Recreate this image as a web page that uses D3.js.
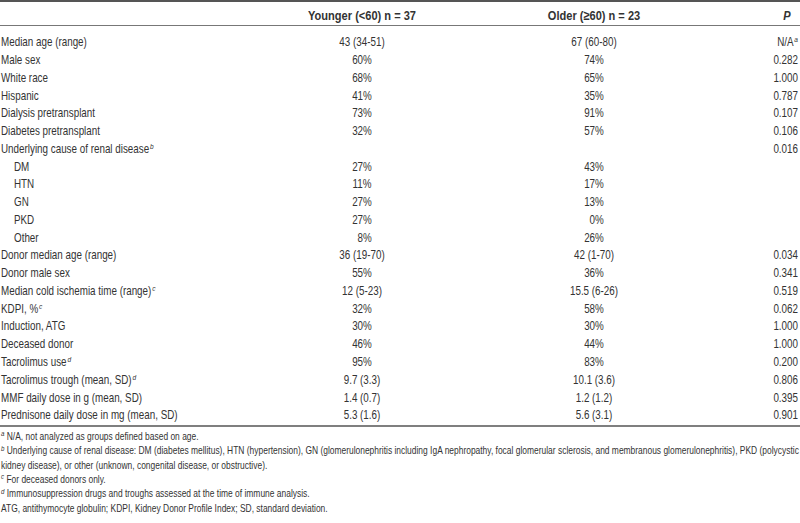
<!DOCTYPE html>
<html>
<head>
<meta charset="utf-8">
<script src="https://cdn.jsdelivr.net/npm/d3@7/dist/d3.min.js"></script>
<style>
  html, body { margin: 0; padding: 0; background: #fff; }
  svg { display: block; }
  text { font-family: "Liberation Sans", Arial, Helvetica, sans-serif; fill: #333; }
</style>
</head>
<body>
<svg id="chart" width="800" height="523"></svg>
<script>
// ---- Data ----
const headers = ["", "Younger (<60) n = 37", "Older (\u226560) n = 23", "P"];
const rowLabels = [
  "Median age (range)", "Male sex", "White race", "Hispanic", "Dialysis pretransplant",
  "Diabetes pretransplant", "Underlying cause of renal disease", "DM", "HTN", "GN", "PKD", "Other",
  "Donor median age (range)", "Donor male sex", "Median cold ischemia time (range)", "KDPI, %",
  "Induction, ATG", "Deceased donor", "Tacrolimus use", "Tacrolimus trough (mean, SD)",
  "MMF daily dose in g (mean, SD)", "Prednisone daily dose in mg (mean, SD)"
];
const rowLevel = [0,0,0,0,0,0,0,1,1,1,1,1,0,0,0,0,0,0,0,0,0,0];
const rowNotes = ["","","","","","","b","","","","","","","","c","c","","","d","d","",""];
const younger = ["43 (34-51)","60%","68%","41%","73%","32%","","27%","11%","27%","27%","\u20078%",
  "36 (19-70)","55%","12 (5-23)","32%","30%","46%","95%","9.7 (3.3)","1.4 (0.7)","5.3 (1.6)"];
const older = ["67 (60-80)","74%","65%","35%","91%","57%","","43%","17%","13%","\u20070%","26%",
  "42 (1-70)","36%","15.5 (6-26)","58%","30%","44%","83%","10.1 (3.6)","1.2 (1.2)","5.6 (3.1)"];
const pValues = ["N/A","0.282","1.000","0.787","0.107","0.106","0.016","","","","","",
  "0.034","0.341","0.519","0.062","1.000","1.000","0.200","0.806","0.395","0.901"];
const pNotes = ["a","","","","","","","","","","","","","","","","","","","","",""];
const footnoteSups = ["a", "b", "", "c", "d", ""];
const footnoteLines = [
  "N/A, not analyzed as groups defined based on age.",
  "Underlying cause of renal disease: DM (diabetes mellitus), HTN (hypertension), GN (glomerulonephritis including IgA nephropathy, focal glomerular sclerosis, and membranous glomerulonephritis), PKD (polycystic",
  "kidney disease), or other (unknown, congenital disease, or obstructive).",
  "For deceased donors only.",
  "Immunosuppression drugs and troughs assessed at the time of immune analysis.",
  "ATG, antithymocyte globulin; KDPI, Kidney Donor Profile Index; SD, standard deviation."
];

// ---- Layout ----
const svg = d3.select("#chart");
const W = 800;
const SX = 0.82; // condensed look
const idx = d3.range(rowLabels.length);
const y = d3.scalePoint().domain(idx).range([42, 415]);
const colX = { label: 1, younger: 362, older: 594, p: 798 };

function place(sel, xf, yf) {
  sel.attr("transform", d => `translate(${typeof xf === "function" ? xf(d) : xf},${typeof yf === "function" ? yf(d) : yf}) scale(${SX},1)`);
}
function addSup(sel, note, size, dy) {
  sel.filter(d => note(d)).append("tspan")
    .attr("dy", -dy).attr("font-size", size).attr("font-style", "italic")
    .attr("dx", 1)
    .text(d => note(d));
}

// rules
svg.append("line").attr("x1", 0).attr("x2", W).attr("y1", 1).attr("y2", 1)
  .attr("stroke", "#555").attr("stroke-width", 2);
svg.append("line").attr("x1", 0).attr("x2", W).attr("y1", 25.5).attr("y2", 25.5)
  .attr("stroke", "#777").attr("stroke-width", 1);
svg.append("line").attr("x1", 0).attr("x2", W).attr("y1", 426).attr("y2", 426)
  .attr("stroke", "#555").attr("stroke-width", 1.5);

// header
const hdr = svg.append("g").attr("font-weight", "bold").attr("font-size", 13.5);
place(hdr.append("text").attr("text-anchor", "middle").text(headers[1]), colX.younger, 19.5);
place(hdr.append("text").attr("text-anchor", "middle").text(headers[2]), colX.older, 19.5);
place(hdr.append("text").attr("text-anchor", "middle").attr("font-style", "italic").text(headers[3]), 787, 19.5);

// body
const body = svg.append("g").attr("font-size", 12);
const rows = body.selectAll("g.row").data(idx).join("g").attr("class", "row");
const by = i => y(i) + 4.3;

const lab = rows.append("text");
place(lab, i => colX.label + (rowLevel[i] ? 13 : 0), by);
lab.append("tspan").text(i => rowLabels[i]);
addSup(lab, i => rowNotes[i], 8, 4);

place(rows.append("text").attr("text-anchor", "middle").text(i => younger[i]), colX.younger, by);
place(rows.append("text").attr("text-anchor", "middle").text(i => older[i]), colX.older, by);
const pt = rows.append("text").attr("text-anchor", "end");
place(pt, colX.p, by);
pt.append("tspan").text(i => pValues[i]);
addSup(pt, i => pNotes[i], 8, 4);

// footnotes
const fy = d3.scalePoint().domain(d3.range(footnoteLines.length)).range([436, 508]);
const fn = svg.append("g").attr("font-size", 10.3).selectAll("text")
  .data(d3.range(footnoteLines.length)).join("text");
place(fn, 1, i => fy(i) + 3.7);
fn.filter(i => footnoteSups[i]).append("tspan")
  .attr("font-size", 7.5).attr("font-style", "italic").attr("dy", -3.5)
  .text(i => footnoteSups[i]);
fn.append("tspan")
  .attr("dy", i => footnoteSups[i] ? 3.5 : 0)
  .text(i => (footnoteSups[i] ? " " : "") + footnoteLines[i]);
</script>
</body>
</html>
